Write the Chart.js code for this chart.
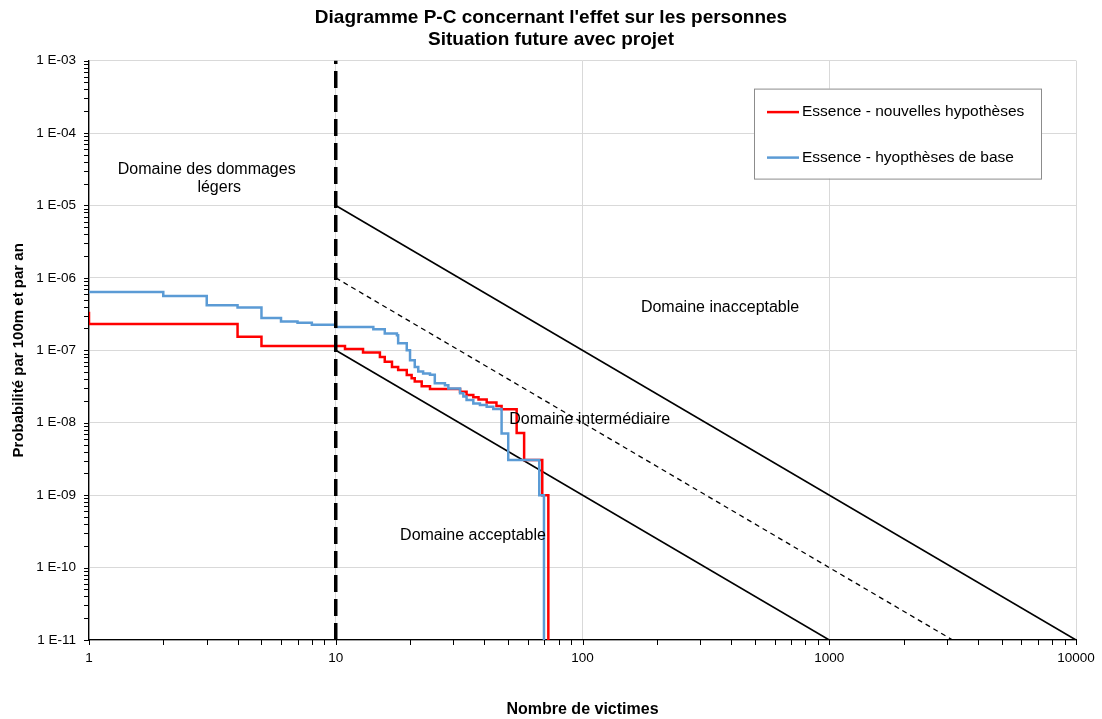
<!DOCTYPE html>
<html>
<head>
<meta charset="utf-8">
<title>Diagramme P-C</title>
<script src="https://cdn.jsdelivr.net/npm/chart.js@4.4.1/dist/chart.umd.min.js"></script>
<style>
    html, body { margin: 0; padding: 0; background: #fff; }
    #wrap { width: 1102px; height: 719px; }
</style>
</head>
<body>
<div id="wrap"><canvas id="pc-chart"></canvas></div>
<script>
// Axis ticks
const xTicks = [1, 10, 100, 1000, 10000];
const yTicks = [1e-11, 1e-10, 1e-9, 1e-8, 1e-7, 1e-6, 1e-5, 1e-4, 1e-3];

// Essence - nouvelles hypothèses (step curve: number of victims / probability)
const redN = [1, 1, 4, 5, 10.9, 12.9, 15.1, 15.8, 16.9, 17.9, 19.4, 20.3, 20.9, 22.3, 24.1,
    31.9, 33.9, 36.1, 37.9, 40.9, 44.8, 47, 54.1, 58, 68.7, 72.7];
const redP = [3.4e-7, 2.3e-7, 1.54e-7, 1.15e-7, 1.04e-7, 9.3e-8, 8.1e-8, 6.95e-8, 5.9e-8, 5.35e-8, 4.56e-8, 4.1e-8, 3.7e-8, 3.2e-8, 2.92e-8,
    2.68e-8, 2.41e-8, 2.24e-8, 2.1e-8, 1.9e-8, 1.7e-8, 1.53e-8, 7.2e-9, 3.05e-9, 1.0e-9, 1e-11];

// Essence - hyopthèses de base
const blueN = [1, 2, 3, 4, 5, 6, 7, 8, 10, 14.2, 15.8, 17.7, 17.9, 19.4, 20, 20.9, 21.6, 22.6, 24.1, 25.2,
    27.7, 28.6, 31.9, 32.9, 33.9, 36.1, 38.4, 40.9, 43.5, 47, 50, 66.8, 69.8];
const blueP = [6.4e-7, 5.6e-7, 4.2e-7, 3.9e-7, 2.8e-7, 2.5e-7, 2.4e-7, 2.25e-7, 2.1e-7, 1.95e-7, 1.71e-7, 1.62e-7, 1.25e-7, 1.0e-7, 7.3e-8, 5.9e-8, 5.1e-8, 4.8e-8, 4.6e-8, 3.5e-8,
    3.3e-8, 2.98e-8, 2.55e-8, 2.3e-8, 2.06e-8, 1.85e-8, 1.75e-8, 1.66e-8, 1.55e-8, 7.1e-9, 3.05e-9, 1.0e-9, 1e-11];

// Limit lines
const upperN = [10, 10000];
const upperP = [1e-5, 1e-11];
const middleN = [10, 3162];
const middleP = [1e-6, 1e-11];
const lowerN = [10, 1000];
const lowerP = [1e-7, 1e-11];
const lightN = [10, 10];
const lightP = [1e-11, 1e-3];

// Zone labels (text, victims, probability)
const zoneText = ['Domaine des dommages', 'légers', 'Domaine inacceptable', 'Domaine intermédiaire', 'Domaine acceptable'];
const zoneN = [3.0, 3.37, 361, 107, 36];
const zoneP = [3.08e-5, 1.74e-5, 3.83e-7, 1.12e-8, 2.73e-10];

Chart.defaults.font.family = "'Liberation Sans', Arial, sans-serif";
Chart.defaults.color = '#000';

function toPoints(xs, ys) {
    return xs.map((x, i) => ({ x: x, y: ys[i] }));
}

// outward tick marks (major + minor) on both axes
const minorTicks = {
    id: 'minorTicks',
    afterDraw(chart) {
        const ctx = chart.ctx;
        const a = chart.chartArea;
        const xs = chart.scales.x, ys = chart.scales.y;
        ctx.save();
        ctx.strokeStyle = '#000';
        ctx.lineWidth = 1;
        ctx.beginPath();
        for (let e = -11; e < -3; e++) {
            for (let k = 1; k <= 10; k++) {
                const py = Math.round(ys.getPixelForValue(k * Math.pow(10, e))) + 0.5;
                ctx.moveTo(a.left - 5, py);
                ctx.lineTo(a.left, py);
            }
        }
        for (let e = 0; e < 4; e++) {
            for (let k = 1; k <= 10; k++) {
                const px = Math.round(xs.getPixelForValue(k * Math.pow(10, e))) + 0.5;
                ctx.moveTo(px, a.bottom);
                ctx.lineTo(px, a.bottom + 5);
            }
        }
        ctx.stroke();
        ctx.restore();
    }
};

// zone labels and legend box
const zonesAndLegend = {
    id: 'zonesAndLegend',
    afterDatasetsDraw(chart) {
        const ctx = chart.ctx;
        const xs = chart.scales.x, ys = chart.scales.y;
        ctx.save();
        ctx.fillStyle = '#000';
        ctx.font = "16px 'Liberation Sans', Arial, sans-serif";
        ctx.textAlign = 'center';
        ctx.textBaseline = 'middle';
        zoneText.forEach((t, i) => {
            ctx.fillText(t, xs.getPixelForValue(zoneN[i]), ys.getPixelForValue(zoneP[i]));
        });
        ctx.restore();
    },
    afterDraw(chart) {
        const ctx = chart.ctx;
        const a = chart.chartArea;
        const bx = a.right - 322, by = a.top + 28, bw = 287, bh = 90;
        ctx.save();
        ctx.fillStyle = '#fff';
        ctx.fillRect(bx, by, bw, bh);
        ctx.strokeStyle = '#8c8c8c';
        ctx.lineWidth = 1;
        ctx.strokeRect(bx + 0.5, by + 0.5, bw, bh);
        ctx.font = "15.5px 'Liberation Sans', Arial, sans-serif";
        ctx.textBaseline = 'middle';
        ctx.textAlign = 'left';
        const items = chart.data.datasets.filter(d => d.inLegend);
        items.sort((p, q) => p.legendRank - q.legendRank);
        items.forEach((d, i) => {
            const y = by + 23.5 + i * 45.5;
            ctx.strokeStyle = d.borderColor;
            ctx.lineWidth = 2.5;
            ctx.beginPath();
            ctx.moveTo(bx + 13, y);
            ctx.lineTo(bx + 45, y);
            ctx.stroke();
            ctx.fillStyle = '#000';
            ctx.fillText(d.label, bx + 48, y);
        });
        ctx.restore();
    }
};

function expLabel(v) {
    const e = Math.round(Math.log10(v));
    return '1 E-' + String(-e).padStart(2, '0');
}

new Chart(document.getElementById('pc-chart'), {
    type: 'scatter',
    data: {
        datasets: [
            {
                label: 'Dommages légers',
                data: toPoints(lightN, lightP),
                showLine: true, pointRadius: 0,
                borderColor: '#000', borderWidth: 3.5, borderDash: [17, 7]
            },
            {
                label: 'Essence - hyopthèses de base',
                data: toPoints(blueN, blueP),
                showLine: true, pointRadius: 0, stepped: true,
                borderColor: '#5b9bd5', borderWidth: 2.5,
                inLegend: true, legendRank: 2
            },
            {
                label: 'Essence - nouvelles hypothèses',
                data: toPoints(redN, redP),
                showLine: true, pointRadius: 0, stepped: true,
                borderColor: '#ff0000', borderWidth: 2.5,
                inLegend: true, legendRank: 1
            },
            {
                label: 'Limite supérieure',
                data: toPoints(upperN, upperP),
                showLine: true, pointRadius: 0,
                borderColor: '#000', borderWidth: 1.6
            },
            {
                label: 'Limite intermédiaire',
                data: toPoints(middleN, middleP),
                showLine: true, pointRadius: 0,
                borderColor: '#000', borderWidth: 1.3, borderDash: [5, 4]
            },
            {
                label: 'Limite inférieure',
                data: toPoints(lowerN, lowerP),
                showLine: true, pointRadius: 0,
                borderColor: '#000', borderWidth: 1.6
            }
        ]
    },
    options: {
        responsive: true,
        maintainAspectRatio: false,
        animation: false,
        layout: { padding: 0 },
        plugins: {
            legend: { display: false },
            tooltip: { enabled: false },
            title: {
                display: true,
                text: ["Diagramme P-C concernant l'effet sur les personnes", 'Situation future avec projet'],
                font: { size: 19, weight: 'bold', lineHeight: 1.2 },
                color: '#000',
                padding: { top: 6, bottom: 9 }
            }
        },
        scales: {
            x: {
                type: 'logarithmic',
                position: 'bottom',
                min: 1,
                max: 10000,
                afterBuildTicks: s => { s.ticks = xTicks.map(v => ({ value: v })); },
                afterFit: s => {
                    s.height = 79;
                    s.paddingLeft = 0;
                    s.paddingRight = 0;
                },
                ticks: {
                    callback: v => String(v),
                    font: { size: 13.5 },
                    color: '#000',
                    padding: 10,
                    maxRotation: 0,
                    autoSkip: false
                },
                grid: { color: '#d9d9d9', drawTicks: false },
                border: { color: '#000', width: 1.3 },
                title: {
                    display: true,
                    text: 'Nombre de victimes',
                    font: { size: 16, weight: 'bold' },
                    color: '#000',
                    padding: { top: 0, bottom: 0 }
                }
            },
            y: {
                type: 'logarithmic',
                min: 1e-11,
                max: 1e-3,
                afterBuildTicks: s => { s.ticks = yTicks.map(v => ({ value: v })); },
                afterFit: s => { s.width = 89; },
                ticks: {
                    callback: v => expLabel(v),
                    font: { size: 13.5 },
                    color: '#000',
                    padding: 13,
                    autoSkip: false
                },
                grid: { color: '#d9d9d9', drawTicks: false },
                border: { color: '#000', width: 1.3 },
                title: {
                    display: true,
                    text: 'Probabilité par 100m et par an',
                    font: { size: 15, weight: 'bold' },
                    color: '#000',
                    padding: { top: 10, bottom: 0 }
                }
            },
            // empty right margin so the title centres on the whole page
            margin: {
                type: 'linear',
                position: 'right',
                display: true,
                afterFit: s => { s.width = 26; },
                grid: { display: false },
                ticks: { display: false },
                border: { display: false }
            }
        }
    },
    plugins: [minorTicks, zonesAndLegend]
});
</script>
</body>
</html>
